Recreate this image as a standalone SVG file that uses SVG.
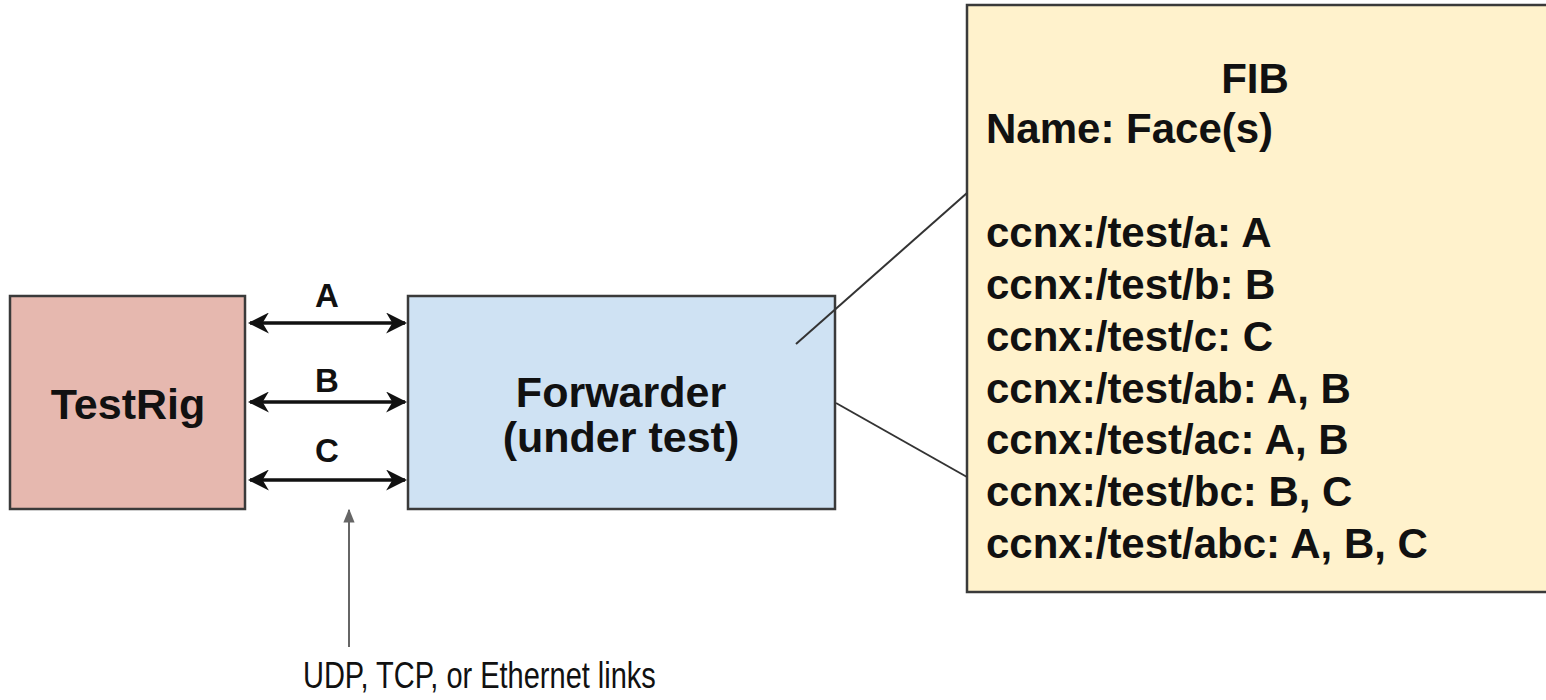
<svg xmlns="http://www.w3.org/2000/svg" width="1546" height="700" viewBox="0 0 1546 700">
<style>
.box{stroke:#3a3a3a;stroke-width:2.5}
.bt{font-family:"Liberation Sans",Arial,sans-serif;font-weight:bold;fill:#111}
.rt{font-family:"Liberation Sans",Arial,sans-serif;fill:#111}
.link{stroke:#111;stroke-width:3.5;fill:none}
.conn{stroke:#333;stroke-width:2;fill:none}
</style>
<defs>
<marker id="ah" viewBox="0 0 10 10" refX="9" refY="5" markerWidth="6" markerHeight="6" markerUnits="strokeWidth" orient="auto-start-reverse">
<path d="M0,0 L10,5 L0,10 L3,5 Z" fill="#111"/>
</marker>
<marker id="ag" viewBox="0 0 10 10" refX="9" refY="5" markerWidth="7" markerHeight="7" markerUnits="strokeWidth" orient="auto">
<path d="M0,1 L10,5 L0,9 Z" fill="#666"/>
</marker>
</defs>
<rect width="1546" height="700" fill="#fff"/>
<g id="testrig">
<rect class="box" x="10" y="296" width="235" height="213" fill="#e6b8af"/>
<text class="bt" x="128" y="419" font-size="43" text-anchor="middle">TestRig</text>
</g>
<g id="forwarder">
<rect class="box" x="408" y="296" width="427" height="213" fill="#cfe2f3"/>
<text class="bt" x="621" y="407" font-size="43" text-anchor="middle">Forwarder</text>
<text class="bt" x="621" y="452" font-size="43" text-anchor="middle">(under test)</text>
</g>
<g id="fib">
<rect class="box" x="967" y="5" width="600" height="587" fill="#fff2cc"/>
<text class="bt" x="1255" y="93" font-size="42" text-anchor="middle">FIB</text>
<text class="bt" x="986" y="143" font-size="42">Name: Face(s)</text>
<text class="bt" x="986" y="247" font-size="42">ccnx:/test/a: A</text>
<text class="bt" x="986" y="299" font-size="42">ccnx:/test/b: B</text>
<text class="bt" x="986" y="351" font-size="42">ccnx:/test/c: C</text>
<text class="bt" x="986" y="403" font-size="42">ccnx:/test/ab: A, B</text>
<text class="bt" x="986" y="454" font-size="42">ccnx:/test/ac: A, B</text>
<text class="bt" x="986" y="506" font-size="42">ccnx:/test/bc: B, C</text>
<text class="bt" x="986" y="558" font-size="42">ccnx:/test/abc: A, B, C</text>
</g>
<g id="connectors">
<line class="link" x1="250" y1="323" x2="405" y2="323" marker-start="url(#ah)" marker-end="url(#ah)"/>
<line class="link" x1="250" y1="402" x2="405" y2="402" marker-start="url(#ah)" marker-end="url(#ah)"/>
<line class="link" x1="250" y1="480" x2="405" y2="480" marker-start="url(#ah)" marker-end="url(#ah)"/>
<line class="conn" x1="796" y1="344" x2="967" y2="193"/>
<line class="conn" x1="836" y1="403" x2="967" y2="477"/>
<line x1="349" y1="647" x2="349" y2="510" stroke="#666" stroke-width="2" marker-end="url(#ag)"/>
<text class="bt" x="327" y="307" font-size="33" text-anchor="middle">A</text>
<text class="bt" x="327" y="392" font-size="33" text-anchor="middle">B</text>
<text class="bt" x="327" y="462" font-size="33" text-anchor="middle">C</text>
<text class="rt" font-size="29" transform="translate(303,688) scale(1,1.25)">UDP, TCP, or Ethernet links</text>
</g>
</svg>
